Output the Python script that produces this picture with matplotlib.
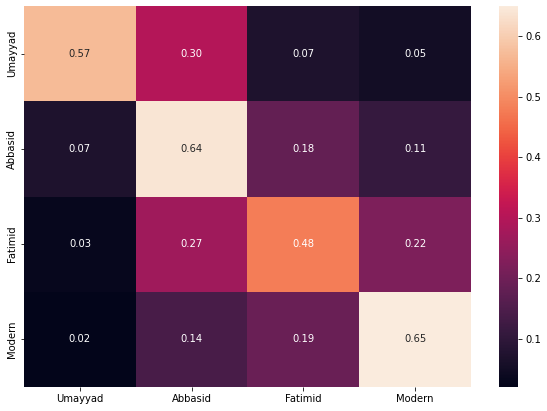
import matplotlib
matplotlib.use("Agg")
import matplotlib.pyplot as plt
import seaborn as sns
import numpy as np

row_labels = ["Umayyad", "Abbasid", "Fatimid", "Modern"]
col_labels = ["Umayyad", "Abbasid", "Fatimid", "Modern"]
row_umayyad = [0.57, 0.30, 0.07, 0.05]
row_abbasid = [0.07, 0.64, 0.18, 0.11]
row_fatimid = [0.03, 0.27, 0.48, 0.22]
row_modern = [0.02, 0.14, 0.19, 0.65]

data = np.array([row_umayyad, row_abbasid, row_fatimid, row_modern])

fig = plt.figure(figsize=(547/72, 411/72), dpi=72)
ax = fig.add_axes([24/547, 1-387/411, (471-24)/547, (387-6)/411])
cax = fig.add_axes([499/547, 1-387/411, 19/547, (387-6)/411])
sns.heatmap(data, annot=True, fmt=".2f", xticklabels=col_labels, yticklabels=row_labels,
            ax=ax, cbar_ax=cax, annot_kws={"fontsize": 10})
ax.tick_params(labelsize=10)
cax.tick_params(labelsize=10)
cax.outline.set_visible(False) if hasattr(cax, "outline") else None
fig.savefig("out.png", dpi=72)
